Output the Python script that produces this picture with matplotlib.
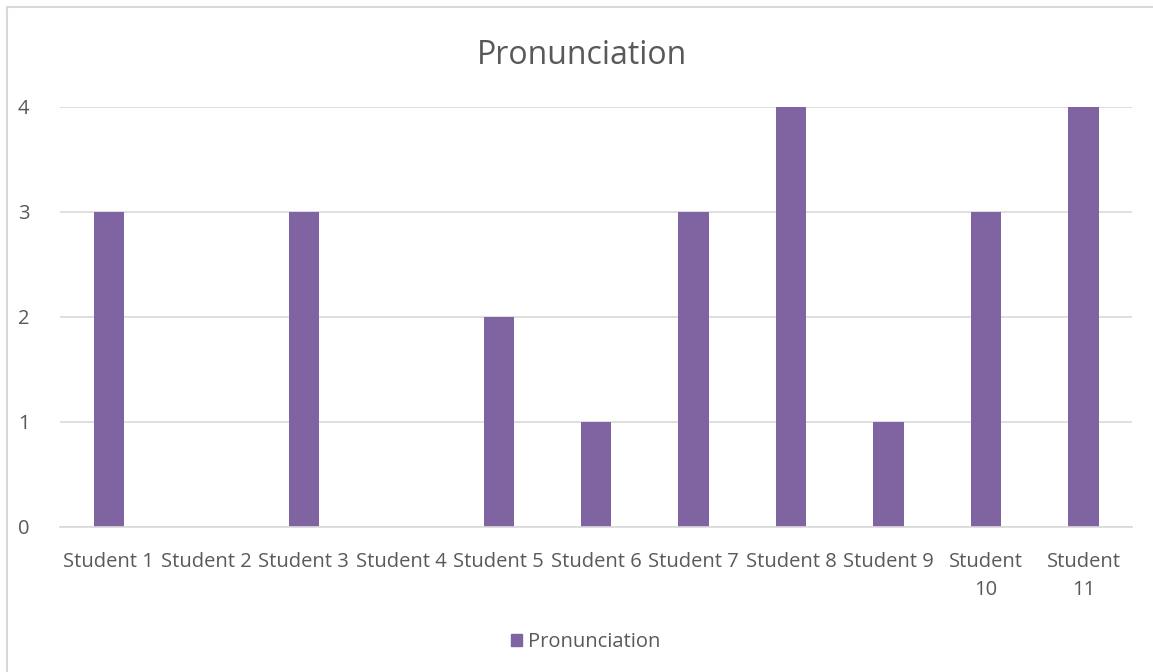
import matplotlib.pyplot as plt
from matplotlib.lines import Line2D
from matplotlib.patches import Patch

students = ["Student 1", "Student 2", "Student 3", "Student 4", "Student 5",
            "Student 6", "Student 7", "Student 8", "Student 9", "Student\n10",
            "Student\n11"]
scores = [3, 0, 3, 0, 2, 1, 3, 4, 1, 3, 4]

purple = "#8064a2"
grey_text = "#595959"
grid = "#d9d9d9"

plt.rcParams["font.family"] = ["Open Sans", "DejaVu Sans"]

fig = plt.figure(figsize=(11.53, 6.72), dpi=100)
ax = fig.add_axes([0.052, 0.2158, 0.930, 0.625])

x = list(range(len(students)))
ax.bar(x, scores, width=0.31, color=purple, zorder=3)

ax.set_xlim(-0.5, len(students) - 0.5)
ax.set_ylim(0, 4)
ax.set_yticks([0, 1, 2, 3, 4])
ax.set_xticks(x)
ax.set_xticklabels(students, fontsize=14.5, color=grey_text, linespacing=1.55)
ax.tick_params(axis="y", labelsize=14.5, labelcolor=grey_text, length=0, pad=22)
ax.tick_params(axis="x", length=0, pad=18)
ax.grid(axis="y", color=grid, linewidth=1.2, zorder=0)
for s in ["top", "right", "left"]:
    ax.spines[s].set_visible(False)
ax.spines["bottom"].set_color(grid)
ax.spines["bottom"].set_linewidth(1.2)
ax.spines["bottom"].set_zorder(4)

fig.text(0.505, 0.918, "Pronunciation", ha="center", va="center",
         fontsize=23, color=grey_text)

fig.legend(handles=[Patch(color=purple, label="Pronunciation")],
           loc="center", bbox_to_anchor=(0.508, 0.044), frameon=False,
           fontsize=14.5, labelcolor=grey_text, handlelength=0.55,
           handleheight=0.55, handletextpad=0.3)

# chart frame (left and top edges)
fig.add_artist(Line2D([0.0065, 0.0065], [0, 0.99], color=grid, linewidth=1.5))
fig.add_artist(Line2D([0.0065, 1.0], [0.99, 0.99], color=grid, linewidth=1.5))

fig.savefig("out.png", dpi=100, facecolor="white")
